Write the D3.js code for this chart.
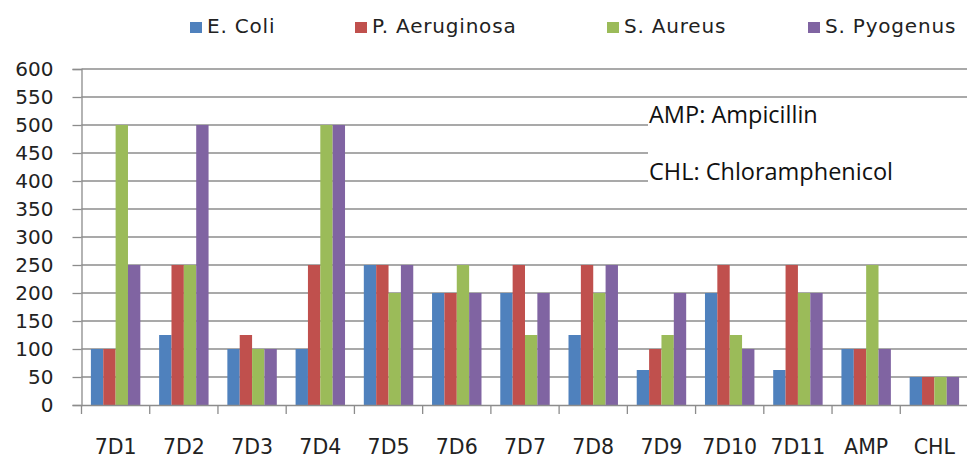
<!DOCTYPE html>
<html>
<head>
<meta charset="utf-8">
<script src="https://cdn.jsdelivr.net/npm/d3@7"></script>
<style>
  body { margin: 0; background: #fff; }
  svg { display: block; }
</style>
</head>
<body>
<div id="chart"></div>
<script>
const categories = ["7D1", "7D2", "7D3", "7D4", "7D5", "7D6", "7D7", "7D8", "7D9", "7D10", "7D11", "AMP", "CHL"];
const seriesNames = ["E. Coli", "P. Aeruginosa", "S. Aureus", "S. Pyogenus"];
const eColi       = [100, 125, 100, 100, 250, 200, 200, 125, 62.5, 200, 62.5, 100, 50];
const pAeruginosa = [100, 250, 125, 250, 250, 200, 250, 250, 100, 250, 250, 100, 50];
const sAureus     = [500, 250, 100, 500, 200, 250, 125, 200, 125, 125, 200, 250, 50];
const sPyogenus   = [250, 500, 100, 500, 250, 200, 200, 250, 200, 100, 200, 100, 50];
const yTicks = [0, 50, 100, 150, 200, 250, 300, 350, 400, 450, 500, 550, 600];
const notes = ["AMP: Ampicillin", "CHL: Chloramphenicol"];

const width = 967, height = 460;
const colors = ["#4F81BD", "#C0504D", "#9BBB59", "#8064A2"];
const series = [eColi, pAeruginosa, sAureus, sPyogenus];
const gridColor = "#8c8c8c";

const margin = { left: 81.5, right: -1.5, top: 69, bottom: 55 };

const svg = d3.select("#chart").append("svg")
    .attr("width", width).attr("height", height);

const x = d3.scaleBand().domain(categories)
    .range([margin.left, width - margin.right])
    .paddingInner(0).paddingOuter(0);
const inner = d3.scaleBand().domain(d3.range(4))
    .range([0, x.bandwidth()]).paddingOuter(0.76);
const y = d3.scaleLinear().domain([0, 600])
    .range([height - margin.bottom, margin.top]);

// gridlines
svg.append("g")
    .selectAll("line")
    .data(yTicks.filter(d => d > 0))
    .enter().append("line")
    .attr("x1", margin.left).attr("x2", width)
    .attr("y1", d => y(d)).attr("y2", d => y(d))
    .attr("stroke", gridColor).attr("stroke-width", 1.3);

// note box hides part of the gridlines
svg.append("rect")
    .attr("x", 648).attr("y", y(535)).attr("width", width - 648).attr("height", y(380) - y(535))
    .attr("fill", "#fff");

svg.append("g").selectAll("text")
    .data(notes).enter().append("text")
    .attr("x", 649).attr("y", (d, i) => 123 + i * 57)
    .attr("font-family", "'Open Sans', sans-serif")
    .attr("font-size", 23.5)
    .attr("fill", "#111")
    .text(d => d);

// bars
const groups = svg.append("g").selectAll("g")
    .data(categories).enter().append("g")
    .attr("transform", d => `translate(${x(d)},0)`);

groups.selectAll("rect")
    .data((c, i) => series.map((s, k) => ({ k, v: s[i] })))
    .enter().append("rect")
    .attr("x", d => inner(d.k))
    .attr("width", inner.bandwidth())
    .attr("y", d => y(d.v))
    .attr("height", d => y(0) - y(d.v))
    .attr("fill", d => colors[d.k]);

// y axis
const yAxis = svg.append("g")
    .attr("transform", `translate(${margin.left},0)`)
    .call(d3.axisLeft(y).tickValues(yTicks).tickSize(9).tickPadding(19));
yAxis.select(".domain").attr("stroke", gridColor).attr("stroke-width", 1.3);
yAxis.selectAll(".tick line").attr("stroke", gridColor).attr("stroke-width", 1.3);
yAxis.selectAll("text")
    .attr("font-family", "'DejaVu Sans', sans-serif")
    .attr("font-size", 20).attr("fill", "#222");

// x axis
const xAxis = svg.append("g")
    .attr("transform", `translate(0,${y(0)})`)
    .call(d3.axisBottom(x).tickSize(0).tickPadding(34));
xAxis.select(".domain").attr("stroke", gridColor).attr("stroke-width", 1.3);
xAxis.selectAll("text")
    .attr("font-family", "'DejaVu Sans', sans-serif")
    .attr("font-size", 20.5).attr("fill", "#222");

xAxis.selectAll(".sep")
    .data(categories).enter().append("line")
    .attr("x1", d => x(d)).attr("x2", d => x(d))
    .attr("y1", 0).attr("y2", 9)
    .attr("stroke", gridColor).attr("stroke-width", 1.3);

// legend
const legendX = [190, 355, 607, 808];
const legend = svg.append("g").selectAll("g")
    .data(seriesNames).enter().append("g")
    .attr("transform", (d, i) => `translate(${legendX[i]},33)`);
legend.append("rect")
    .attr("x", 0).attr("y", -11).attr("width", 12).attr("height", 11)
    .attr("fill", (d, i) => colors[i]);
legend.append("text")
    .attr("x", 17).attr("y", 0)
    .attr("font-family", "'DejaVu Sans', sans-serif")
    .attr("font-size", 20).attr("letter-spacing", 0.8).attr("fill", "#222")
    .text(d => d);
</script>
</body>
</html>
